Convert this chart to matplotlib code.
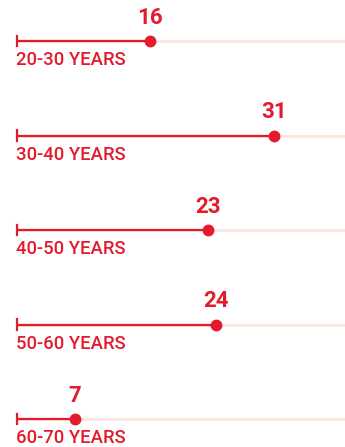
import matplotlib
matplotlib.use("Agg")
import matplotlib.pyplot as plt

# data
groups = ['20-30 YEARS', '30-40 YEARS', '40-50 YEARS', '50-60 YEARS', '60-70 YEARS']
values = [16, 31, 23, 24, 7]

RED = '#e31b2c'
TRACK = '#fbe7e0'

plt.rcParams['font.family'] = ['Roboto', 'DejaVu Sans']

fig = plt.figure(figsize=(3.45, 4.47), dpi=100)
ax = fig.add_axes([0, 0, 1, 1])

x_max = 39.5
for i, (g, v) in enumerate(zip(groups, values)):
    ax.plot([0, x_max], [i, i], color=TRACK, lw=2.0, solid_capstyle='butt', zorder=1)
    ax.plot([0, v], [i, i], color=RED, lw=1.6, solid_capstyle='butt', zorder=2)
    ax.plot([0, 0], [i - 0.055, i + 0.055], color=RED, lw=1.6, zorder=2)
    ax.plot(v, i, 'o', color=RED, markersize=7.5, zorder=3)
    ax.text(v, i - 0.13, str(v), color=RED, fontsize=16, fontweight='bold',
            ha='center', va='bottom')
    ax.text(-0.1, i + 0.11, g, color=RED, fontsize=13.3, fontweight='medium',
            ha='left', va='top')

ax.set_xlim(-2.05, x_max)
ax.set_ylim(4.296, -0.434)
ax.axis('off')

fig.savefig('out.png', dpi=100)
